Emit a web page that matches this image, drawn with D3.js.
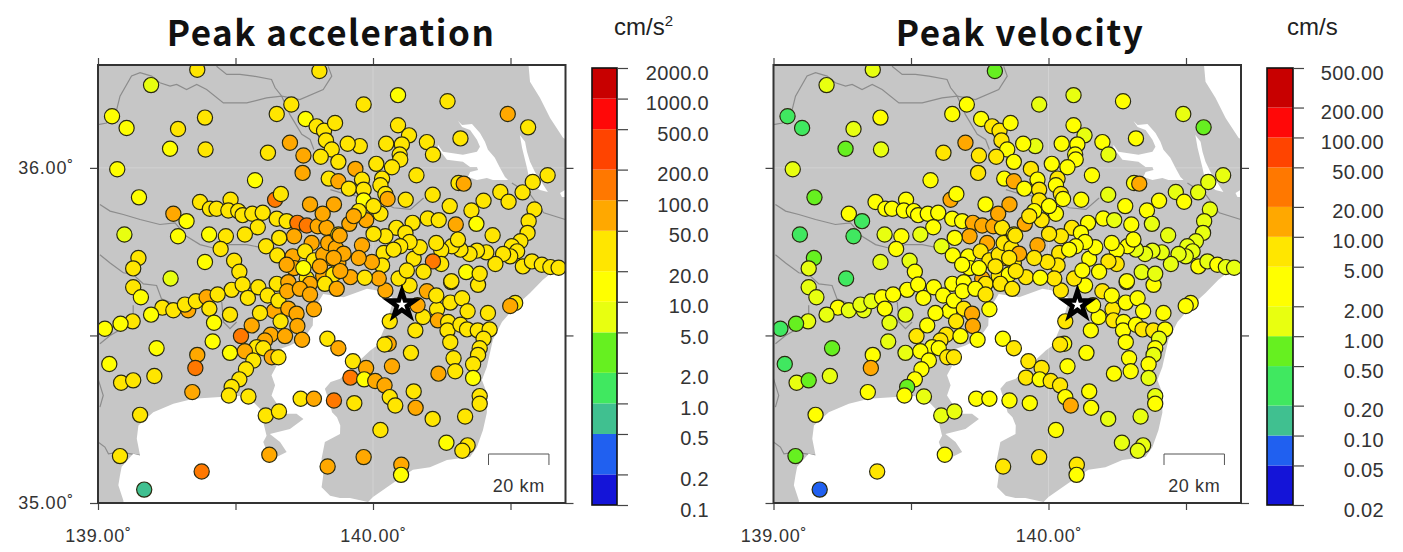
<!DOCTYPE html>
<html>
<head>
<meta charset="utf-8">
<script src="https://cdn.jsdelivr.net/npm/d3@7"></script>
<style>
  html, body { margin: 0; padding: 0; background: #fff; }
  svg { display: block; }
  text { font-family: "Liberation Sans", sans-serif; fill: #333; }
  .title { font-family: "Noto Sans CJK JP", sans-serif; font-weight: 700; font-size: 35px; fill: #111; letter-spacing: 1.5px; }
</style>
</head>
<body>
<div id="chart"></div>
<script>
// Station values, one row per station: [lon, lat, peak acceleration cm/s2, peak velocity cm/s]
const stationsNorthWest = [
  [139.193,36.247,8,1.5],[139.361,36.293,25,1.5],[139.805,36.289,22,0.6],[139.051,36.154,15,0.4],
  [139.104,36.119,15,0.3],[139.291,36.116,25,1.5],[139.389,36.150,25,2.5],[139.262,36.057,18,0.6],
  [139.391,36.055,22,1.2],[139.070,35.996,15,1.5],[139.618,36.045,30,6],[139.698,36.075,60,12],
  [139.703,36.189,25,4],[139.650,36.161,25,4],[139.755,36.146,18,4],[139.795,36.124,25,6],
  [139.822,36.111,30,7],[139.829,36.082,30,7],[139.862,36.134,22,4],[139.850,36.055,30,4],
  [139.747,36.037,55,7],[139.810,36.033,30,6],[139.874,36.018,30,4],[139.744,35.985,55,7],
  [139.839,35.968,30,4],[139.874,35.960,60,12],[139.571,35.963,15,4],[139.149,35.912,15,0.7],
  [139.644,35.905,120,12],[139.665,35.922,25,4],[139.771,35.891,60,4],[139.858,35.891,65,12]
];
const stationsSaitama = [
  [139.274,35.863,60,3],[139.322,35.841,15,0.4],[139.096,35.801,8,0.3],[139.291,35.796,15,0.3],
  [139.371,35.898,30,3],[139.407,35.878,30,3],[139.431,35.878,30,3],[139.482,35.905,30,4],
  [139.474,35.873,30,3],[139.510,35.871,25,3],[139.526,35.859,25,3],[139.561,35.863,25,3],
  [139.599,35.866,25,3],[139.650,35.848,25,3],[139.686,35.841,25,3],[139.725,35.836,110,12],
  [139.759,35.828,130,12],[139.799,35.826,60,12],[139.831,35.821,60,7],[139.817,35.863,60,12],
  [139.713,35.796,60,12],[139.777,35.776,65,12],[139.659,35.791,35,4],[139.581,35.823,25,4],
  [139.534,35.801,25,1.5],[139.465,35.796,25,3],[139.404,35.801,18,1.5],[139.446,35.758,30,3],
  [139.389,35.719,18,1.5],[139.495,35.723,25,1.5],[139.514,35.690,30,3],[139.611,35.766,30,1.5]
];
const stationsTokyo = [
  [139.652,35.739,30,3],[139.708,35.736,60,3],[139.713,35.701,60,3],[139.686,35.711,60,3],
  [139.753,35.751,20,7],[139.785,35.724,20,7],[139.844,35.731,65,12],[139.874,35.716,60,7],
  [139.819,35.741,60,7],[139.837,35.776,60,7],[139.874,35.801,30,7],[139.759,35.670,30,13],
  [139.819,35.677,60,7],[139.865,35.761,60,7],[139.807,35.706,60,7],[139.856,35.682,30,4],
  [139.747,35.701,18,4],[139.650,35.654,30,3],[139.692,35.659,60,3],[139.771,35.654,60,7],
  [139.825,35.654,30,7],[139.868,35.639,60,7],[139.486,35.636,30,3],[139.526,35.652,25,3],
  [139.545,35.612,25,3],[139.583,35.644,25,3],[139.617,35.619,25,3],[139.640,35.573,60,3],
  [139.656,35.604,25,3],[139.688,35.632,55,3],[139.734,35.639,55,3],[139.771,35.622,60,7]
];
const stationsKanagawa = [
  [139.147,35.731,28,0.5],[139.128,35.700,30,1.5],[139.264,35.670,8,0.4],[139.128,35.644,25,1.5],
  [139.156,35.614,15,1.5],[139.234,35.583,25,3],[139.193,35.562,18,1.5],[139.274,35.575,25,1.5],
  [139.126,35.542,22,1.2],[139.082,35.535,18,0.7],[139.025,35.520,15,0.4],[139.328,35.575,55,1.5],
  [139.316,35.592,20,1.2],[139.356,35.602,25,1.5],[139.395,35.614,60,3],[139.435,35.622,25,3],
  [139.405,35.580,20,3],[139.422,35.538,15,1.5],[139.480,35.562,25,1.2],[139.417,35.482,18,1.2],
  [139.213,35.462,15,0.7],[139.361,35.442,60,4],[139.354,35.403,125,12],[139.480,35.448,14,1.5],
  [139.520,35.498,110,6],[139.559,35.530,55,4],[139.589,35.567,30,3],[139.692,35.580,60,7],
  [139.722,35.565,65,14],[139.725,35.528,60,15],[139.664,35.542,30,7],[139.785,35.578,60,4],
  [139.628,35.502,60,7],[139.680,35.498,60,4],[139.742,35.487,60,4],[139.607,35.485,55,7],
  [139.577,35.465,25,3],[139.534,35.453,55,3],[139.601,35.462,25,3],[139.565,35.425,25,3],
  [139.538,35.399,25,3],[139.514,35.369,30,4],[139.486,35.346,25,0.7],[139.476,35.321,25,3],
  [139.547,35.318,20,1.5],[139.632,35.435,55,7],[139.656,35.435,30,7],[139.834,35.490,25,3],
  [139.874,35.462,55,6],[139.041,35.415,14,0.35],[139.084,35.359,25,1.3],[139.128,35.366,25,0.6],
  [139.205,35.379,22,1.2],[139.343,35.331,55,3],[139.153,35.263,25,3],[139.080,35.140,25,0.6],
  [139.168,35.040,0.8,0.07],[139.377,35.094,120,6],[139.610,35.261,25,1.5],[139.658,35.273,25,1.5],
  [139.623,35.144,55,3],[139.737,35.311,25,3],[139.785,35.311,60,3],[139.858,35.306,110,3],
  [139.835,35.109,55,6]
];
const stationsChiba = [
  [139.927,35.423,25,6],[139.975,35.403,55,6],[139.918,35.374,115,7],[139.968,35.369,18,3],
  [140.008,35.364,60,7],[140.042,35.351,60,6],[140.061,35.316,25,3],[140.081,35.291,25,12],
  [139.932,35.298,25,3],[140.057,35.475,60,3],[140.042,35.473,25,5],[140.138,35.448,25,3],
  [140.069,35.408,55,4],[140.061,35.542,25,6],[140.154,35.515,25,3],[140.182,35.555,25,3],
  [140.162,35.590,60,3],[140.196,35.632,60,6],[140.133,35.649,25,3],[140.045,35.634,60,6],
  [140.233,35.578,25,6],[140.230,35.619,25,3],[140.281,35.598,25,3],[140.324,35.611,25,4],
  [140.284,35.659,20,3],[140.382,35.651,20,3],[140.344,35.572,25,3],[140.418,35.567,25,3],
  [140.517,35.597,25,3],[140.499,35.588,55,3],[140.236,35.545,55,6],[140.273,35.540,25,3],
  [140.271,35.515,20,3],[140.318,35.532,25,3],[140.342,35.518,25,6],[140.381,35.515,25,7],
  [140.424,35.518,25,3],[140.402,35.490,25,1.5],[140.388,35.462,20,3],[140.382,35.442,25,1.5],
  [140.281,35.480,25,3],[140.293,35.432,25,3],[140.299,35.393,20,3],[140.238,35.386,55,3],
  [140.364,35.414,20,3],[140.364,35.373,15,1.5],[140.388,35.319,20,1.5],[140.388,35.296,25,3],
  [140.335,35.258,25,1.5],[140.217,35.251,25,1.5],[140.148,35.333,25,3],[140.155,35.284,55,3],
  [140.027,35.218,25,3],[140.267,35.180,15,1.5],[140.344,35.172,25,1.5],[140.325,35.156,20,1.5],
  [139.966,35.137,55,5],[140.103,35.114,55,5],[140.102,35.084,15,3]
];
const stationsIbaraki = [
  [139.966,36.189,25,1.5],[140.091,36.217,15,1.5],[140.271,36.199,25,3],[140.490,36.161,55,1.5],
  [140.564,36.121,25,0.5],[140.091,36.127,25,3],[140.131,36.097,25,1.2],[140.105,36.070,25,3],
  [140.048,36.072,25,3],[139.952,36.065,25,1.5],[139.908,36.072,25,3],[140.196,36.077,25,3],
  [140.218,36.040,22,1.5],[140.318,36.088,20,3],[140.097,36.040,25,3],[140.099,36.025,22,4],
  [140.069,36.002,25,3],[140.012,36.012,25,3],[139.936,35.997,60,6],[140.158,35.978,25,3],
  [140.033,35.968,30,6],[140.027,35.948,25,3],[139.960,35.965,25,3],[139.912,35.938,25,3],
  [139.966,35.935,25,6],[140.045,35.922,25,6],[140.053,35.907,60,3],[139.966,35.903,18,6],
  [140.119,35.905,25,3],[140.217,35.920,25,1.5],[140.279,35.886,25,3],[140.311,35.955,25,3],
  [140.330,35.953,60,12],[140.463,35.928,25,1.5],[140.493,35.899,25,3],[140.544,35.927,25,1.5],
  [140.581,35.958,20,1.5],[140.635,35.978,25,1.5],[140.402,35.902,25,3],[140.358,35.873,25,3],
  [140.376,35.833,18,1.5],[140.301,35.831,60,3],[140.199,35.849,25,3],[140.239,35.844,25,1.5],
  [140.144,35.836,20,3],[140.435,35.799,20,1.5]
];
const stationsEast = [
  [140.587,35.876,20,1.5],[140.566,35.841,20,1.5],[140.562,35.806,25,1.5],[140.536,35.781,25,1.5],
  [140.505,35.766,25,1.5],[140.524,35.751,25,1.5],[140.499,35.736,25,1.5],[140.473,35.743,20,1.5],
  [140.445,35.713,20,1.5],[140.412,35.748,25,1.5],[140.378,35.753,25,1.5],[140.351,35.743,20,1.5],
  [140.318,35.756,25,1.5],[140.287,35.766,25,3],[140.309,35.786,25,3],[140.248,35.754,25,3],
  [140.230,35.776,25,3],[140.248,35.713,25,6],[140.218,35.721,110,6],[140.184,35.690,25,3],
  [140.148,35.729,25,3],[140.170,35.763,25,3],[140.085,35.821,25,6],[140.045,35.796,30,6],
  [140.002,35.803,25,6],[140.118,35.806,25,3],[140.133,35.779,25,3],[140.099,35.766,25,3],
  [140.039,35.746,25,6],[140.075,35.756,25,3],[140.033,35.709,30,6],[139.996,35.719,60,6],
  [139.960,35.769,60,13],[139.975,35.844,60,6],[139.914,35.833,55,12],[139.879,35.798,60,6],
  [140.027,35.863,25,3],[140.002,35.886,30,3],[139.948,35.871,30,3],[139.930,35.856,60,6],
  [139.893,35.744,60,13],[139.948,35.731,60,6],[139.857,35.731,60,6],[139.918,35.674,60,6],
  [139.881,35.692,60,6],[140.021,35.670,60,6],[139.970,35.672,25,3],[140.093,35.670,25,6],
  [140.123,35.694,25,3],[140.545,35.706,20,3],[140.578,35.721,25,1.5],[140.614,35.711,22,3],
  [140.645,35.704,25,1.5],[140.675,35.702,25,1.5],[140.339,35.689,15,1.5],[140.388,35.684,25,1.5],
  [140.285,35.662,20,3]
];

// Sea areas as [lon, lat], everything else inside the frame is land
const seaNorthEast = [
  [140.564,36.32],[140.72,36.32],[140.72,36.075],[140.691,36.090],[140.644,36.149],
  [140.607,36.209],[140.571,36.257]
];
const seaSouth = [
  [140.72,35.734],[140.618,35.666],[140.571,35.627],[140.523,35.591],[140.469,35.540],[140.436,35.487],
  [140.414,35.406],[140.396,35.367],[140.414,35.328],[140.414,35.269],[140.400,35.218],[140.378,35.167],
  [140.353,35.137],[140.269,35.128],[140.207,35.107],[140.145,35.099],[140.073,35.060],[140.000,35.018],
  [139.982,35.003],[139.916,35.015],[139.880,35.015],[139.844,35.022],[139.813,35.047],[139.819,35.082],
  [139.813,35.132],[139.825,35.182],[139.880,35.206],[139.881,35.231],[139.869,35.256],[139.851,35.271],
  [139.845,35.291],[139.825,35.341],[139.846,35.361],[139.881,35.371],[139.918,35.400],[139.990,35.455],
  [140.015,35.470],[140.051,35.540],[140.075,35.609],[140.051,35.629],[139.978,35.639],[139.893,35.614],
  [139.819,35.624],[139.783,35.575],[139.781,35.530],[139.747,35.490],[139.698,35.470],[139.644,35.455],
  [139.650,35.410],[139.631,35.381],[139.644,35.351],[139.631,35.321],[139.674,35.266],[139.722,35.266],
  [139.747,35.251],[139.698,35.221],[139.625,35.206],[139.662,35.182],[139.686,35.152],[139.650,35.137],
  [139.619,35.142],[139.601,35.182],[139.613,35.201],[139.601,35.241],[139.589,35.281],[139.553,35.311],
  [139.516,35.319],[139.444,35.316],[139.347,35.311],[139.274,35.296],[139.201,35.271],[139.147,35.231],
  [139.141,35.192],[139.153,35.142],[139.128,35.147],[139.086,35.108],[139.080,35.083],[139.074,35.053],
  [139.092,35.008],[139.096,34.98],[140.72,34.98]
];
const lakeNishiura = [
  [140.309,36.140],[140.324,36.128],[140.360,36.131],[140.389,36.104],[140.407,36.078],[140.418,36.054],
  [140.443,36.030],[140.462,36.000],[140.480,35.973],[140.491,35.964],[140.436,35.964],[140.414,35.970],
  [140.378,35.964],[140.345,35.973],[140.353,35.988],[140.382,35.994],[140.378,36.003],[140.353,36.003],
  [140.327,36.018],[140.269,36.024],[140.236,36.060],[140.236,36.069],[140.254,36.048],[140.327,36.039],
  [140.378,36.048],[140.389,36.063],[140.378,36.084],[140.353,36.113],[140.324,36.122]
];
const lakeKitaura = [
  [140.534,36.098],[140.553,36.078],[140.560,36.048],[140.571,36.018],[140.589,35.988],[140.636,35.928],
  [140.607,35.934],[140.571,35.958],[140.560,36.000],[140.542,36.060]
];
const lakeSmall = [[140.680,35.925],[140.698,35.934],[140.702,35.913],[140.687,35.913]];

// Prefecture borders as [lon, lat]
const borders = [
  [[139.000,36.129],[139.032,36.134],[139.068,36.174],[139.080,36.214],[139.122,36.274],[139.153,36.284],
   [139.195,36.274],[139.225,36.254],[139.262,36.244],[139.286,36.249],[139.322,36.234],[139.359,36.249],
   [139.395,36.234],[139.456,36.194],[139.541,36.194],[139.613,36.209],[139.668,36.214],[139.734,36.204],
   [139.819,36.234],[139.850,36.274],[139.837,36.303]],
  [[139.431,36.303],[139.468,36.279],[139.516,36.279],[139.565,36.274],[139.631,36.264],[139.644,36.239],[139.668,36.214]],
  [[139.668,36.214],[139.698,36.159],[139.741,36.100],[139.771,36.085],[139.785,36.055]],
  [[139.007,35.891],[139.044,35.871],[139.092,35.861],[139.153,35.846],[139.225,35.831],[139.280,35.836],
   [139.322,35.796],[139.371,35.771],[139.419,35.761],[139.480,35.771],[139.541,35.771],[139.601,35.761]],
  [[139.007,35.741],[139.044,35.716],[139.092,35.687],[139.128,35.682],[139.165,35.654],[139.213,35.649],[139.231,35.609],[139.274,35.595]],
  [[139.128,35.590],[139.128,35.540],[139.044,35.500],[139.007,35.475]],
  [[139.450,35.600],[139.456,35.540],[139.480,35.520],[139.504,35.540]],
  [[139.000,35.371],[139.019,35.321],[139.007,35.286]],
  [[139.000,35.182],[139.025,35.167],[139.038,35.147],[139.080,35.152],[139.153,35.142]],
  [[139.777,35.286],[139.807,35.231]],
  [[139.845,35.935],[139.905,35.920],[140.002,35.910],[140.075,35.881],[140.136,35.876],[140.184,35.910]],
  [[140.505,35.955],[140.572,35.920],[140.621,35.866],[140.699,35.846]]
];

const epicenter = [140.105, 35.592];

// Colour bars, bottom to top, 13 bands on both panels
const bandColors = ['#1414d8','#2060f0','#40c090','#40e860','#66f020','#e8ff10','#ffff00','#ffe600','#ffa800','#ff7800','#ff4400','#ff0808','#c80000'];
const accTicks = [0.1,0.2,0.5,1,2,5,10,20,50,100,200,500,1000,2000];
const velTicks = [0.02,0.05,0.1,0.2,0.5,1,2,5,10,20,50,100,200,500];

const stations = [].concat(stationsNorthWest, stationsSaitama, stationsTokyo, stationsKanagawa, stationsChiba, stationsIbaraki, stationsEast);

const svg = d3.select('#chart').append('svg')
  .attr('width', 1403)
  .attr('height', 552);

const latScale = d3.scaleLinear().domain([35, 36.307]).range([503, 65]);
const kmPerDegLon = 91;

function drawPanel(p, idx) {
  const lonScale = d3.scaleLinear().domain([139, 140.7]).range([p.left, p.left + 467.5]);
  const top = latScale.range()[1], bottom = latScale.range()[0];
  const right = lonScale.range()[1];
  const clipId = 'clip' + idx;

  svg.append('clipPath').attr('id', clipId).append('rect')
    .attr('x', p.left).attr('y', top).attr('width', right - p.left).attr('height', bottom - top);

  const map = svg.append('g').attr('clip-path', 'url(#' + clipId + ')');

  // Land
  map.append('rect')
    .attr('x', p.left).attr('y', top).attr('width', right - p.left).attr('height', bottom - top)
    .style('fill', '#c6c6c6');

  const line = d3.line().x(d => lonScale(d[0])).y(d => latScale(d[1]));

  // faint seam lines in the land image
  map.append('line').attr('x1', lonScale(140)).attr('x2', lonScale(140)).attr('y1', top).attr('y2', bottom)
    .style('stroke', '#d2d2d2');
  map.append('line').attr('x1', p.left).attr('x2', right).attr('y1', latScale(36)).attr('y2', latScale(36))
    .style('stroke', '#d2d2d2');

  borders.forEach(b => {
    map.append('path').attr('d', line(b))
      .style('fill', 'none').style('stroke', '#8c8c8c').style('stroke-width', 1.2);
  });

  [seaNorthEast, seaSouth, lakeNishiura, lakeKitaura, lakeSmall].forEach(s => {
    map.append('path').attr('d', line(s) + 'Z').style('fill', '#fff');
  });

  // Stations
  const colorScale = d3.scaleThreshold().domain(p.ticks.slice(1, -1)).range(bandColors);
  map.selectAll('circle.st')
    .data(stations)
    .enter()
    .append('circle')
    .attr('class', 'st')
    .attr('cx', d => lonScale(d[0]))
    .attr('cy', d => latScale(d[1]))
    .attr('r', 7.6)
    .style('fill', d => colorScale(d[p.valueIdx]))
    .style('stroke', '#2a2a10')
    .style('stroke-width', 1.2);

  // Epicenter star
  svg.append('path')
    .attr('d', d3.symbol().type(d3.symbolStar).size(210)())
    .attr('transform', 'translate(' + lonScale(epicenter[0]) + ',' + latScale(epicenter[1]) + ')')
    .style('fill', '#fff').style('stroke', '#000').style('stroke-width', 4.5);

  // Scale bar
  const barX1 = lonScale(140.42), barX2 = barX1 + (lonScale(141) - lonScale(140)) * 20 / kmPerDegLon;
  svg.append('path')
    .attr('d', 'M' + barX1 + ',' + (bottom - 38) + 'V' + (bottom - 49) + 'H' + barX2 + 'V' + (bottom - 38))
    .style('fill', 'none').style('stroke', '#555').style('stroke-width', 1);
  svg.append('text')
    .attr('x', (barX1 + barX2) / 2).attr('y', bottom - 11)
    .attr('text-anchor', 'middle')
    .style('font-size', '18px').style('letter-spacing', '0.6px')
    .text('20 km');

  // Axes
  const lonTicks = [139, 139.5, 140, 140.5];
  const latTicks = [35, 35.5, 36];
  const fmt = d => Number.isInteger(d) ? d.toFixed(2) + '˚' : '';

  const bottomAxis = svg.append('g').attr('transform', 'translate(0,' + bottom + ')')
    .call(d3.axisBottom(lonScale).tickValues(lonTicks).tickSize(7).tickPadding(19).tickFormat(fmt));
  const topAxis = svg.append('g').attr('transform', 'translate(0,' + top + ')')
    .call(d3.axisTop(lonScale).tickValues(lonTicks).tickSize(7).tickFormat(''));
  const leftAxis = svg.append('g').attr('transform', 'translate(' + p.left + ',0)')
    .call(d3.axisLeft(latScale).tickValues(latTicks).tickSize(8).tickPadding(16).tickFormat(p.latLabels ? fmt : ''));
  const rightAxis = svg.append('g').attr('transform', 'translate(' + right + ',0)')
    .call(d3.axisRight(latScale).tickValues(latTicks).tickSize(8).tickFormat(''));

  [bottomAxis, topAxis, leftAxis, rightAxis].forEach(a => {
    a.select('.domain').remove();
    a.selectAll('line').style('stroke', '#444').style('stroke-width', 1.2);
    a.selectAll('text').style('font-size', '18px').style('letter-spacing', '0.8px')
      .style('font-family', '"Liberation Sans", sans-serif').style('fill', '#333');
  });

  svg.append('rect')
    .attr('x', p.left).attr('y', top).attr('width', right - p.left).attr('height', bottom - top)
    .style('fill', 'none').style('stroke', '#333').style('stroke-width', 2);

  // Colour bar
  const barScale = d3.scaleLog().domain([p.ticks[0], p.ticks[p.ticks.length - 1]]).range([505, 68]);
  bandColors.forEach((c, i) => {
    svg.append('rect')
      .attr('x', p.barX).attr('width', p.barW)
      .attr('y', barScale(p.ticks[i + 1]))
      .attr('height', barScale(p.ticks[i]) - barScale(p.ticks[i + 1]))
      .style('fill', c);
  });
  svg.append('rect')
    .attr('x', p.barX).attr('y', 68).attr('width', p.barW).attr('height', 437)
    .style('fill', 'none').style('stroke', '#111').style('stroke-width', 1.6);

  const barAxis = svg.append('g').attr('transform', 'translate(' + (p.barX + p.barW) + ',0)')
    .call(d3.axisRight(barScale).tickValues(p.ticks).tickSize(11).tickSizeOuter(0).tickPadding(0)
      .tickFormat(d => d3.format(p.tickFmt)(d)));
  barAxis.select('.domain').remove();
  barAxis.selectAll('line').style('stroke', '#444').style('stroke-width', 1.2);
  barAxis.selectAll('text')
    .attr('x', p.labelX - p.barX - p.barW)
    .attr('dy', '0.55em')
    .attr('text-anchor', 'end')
    .style('font-size', '20px').style('letter-spacing', '0.35px')
    .style('font-family', '"Liberation Sans", sans-serif').style('fill', '#333');

  // Title and unit
  svg.append('text').attr('class', 'title')
    .attr('x', p.titleX).attr('y', 46).attr('text-anchor', 'middle').text(p.title);

  const unit = svg.append('text')
    .attr('x', p.unitX).attr('y', 35).attr('text-anchor', 'start')
    .style('font-size', '24px').style('fill', '#222').text(p.unit);
  if (p.unitSup) {
    unit.append('tspan').attr('dy', -9).style('font-size', '15px').text(p.unitSup);
  }
}

drawPanel({ left: 98, valueIdx: 2, ticks: accTicks, tickFmt: '.1f', latLabels: true,
  barX: 592, barW: 25, labelX: 709, title: 'Peak acceleration', titleX: 331, unit: 'cm/s', unitSup: '2', unitX: 614 }, 0);
drawPanel({ left: 773.5, valueIdx: 3, ticks: velTicks, tickFmt: '.2f', latLabels: false,
  barX: 1267, barW: 26, labelX: 1384, title: 'Peak velocity', titleX: 1020, unit: 'cm/s', unitX: 1287 }, 1);
</script>
</body>
</html>
